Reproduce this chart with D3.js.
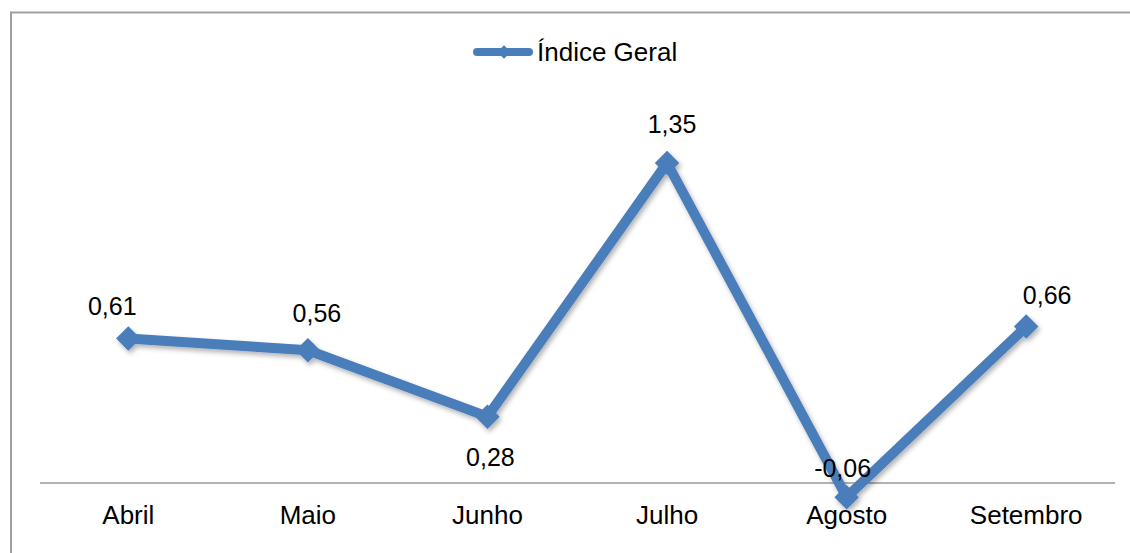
<!DOCTYPE html>
<html><head><meta charset="utf-8">
<script src="https://cdn.jsdelivr.net/npm/d3@7/dist/d3.min.js"></script>
<style>html,body{margin:0;padding:0;background:#fff;overflow:hidden}</style>
</head><body>
<svg id="c" width="1130" height="553"></svg>
<script>
const categories = ["Abril","Maio","Junho","Julho","Agosto","Setembro"];
const values = [0.61, 0.56, 0.28, 1.35, -0.06, 0.66];
const labels = ["0,61","0,56","0,28","1,35","-0,06","0,66"];
const seriesName = "Índice Geral";
// label placement offsets (dx, dy of baseline from point)
const labelDx = [-16, 9, 3, 5, -4, 21];
const labelDy = [-23, -28, 49, -30, -20, -23];

const svg = d3.select("#c");
const color = "#4a7ebb";
const font = "Arial, 'Liberation Sans', sans-serif";

const defs = svg.append("defs");
const f = defs.append("filter").attr("id","sh").attr("x","-20%").attr("y","-20%").attr("width","140%").attr("height","140%");
f.append("feDropShadow").attr("dx",2).attr("dy",3).attr("stdDeviation",2.5).attr("flood-color","#000").attr("flood-opacity",0.3);

svg.append("rect").attr("x",11).attr("y",12.5).attr("width",1140).attr("height",560)
  .attr("fill","none").attr("stroke","#a0a0a0").attr("stroke-width",2);

const x = d3.scaleBand().domain(categories).range([38.5, 1116]);
const y = d3.scaleLinear().domain([0, 1.35]).range([483, 163]);

// zero axis line
svg.append("line").attr("x1",40).attr("x2",1115).attr("y1",y(0)).attr("y2",y(0))
  .attr("stroke","#999").attr("stroke-width",1.5);

// category labels
const xAxis = d3.axisBottom(x).tickSize(0).tickPadding(0);
const ax = svg.append("g").attr("transform",`translate(0,${y(0)})`).call(xAxis);
ax.select(".domain").remove();
ax.selectAll("text").attr("font-family",font).attr("font-size",26).attr("fill","#000")
  .attr("dy",null).attr("y",40.5);

const cx = c => x(c) + x.bandwidth()/2;
const data = categories.map((c,i)=>({c, v:values[i], l:labels[i], i}));

const g = svg.append("g").attr("filter","url(#sh)");
g.append("path").datum(data)
  .attr("d", d3.line().x(d=>cx(d.c)).y(d=>y(d.v)))
  .attr("fill","none").attr("stroke",color).attr("stroke-width",10).attr("stroke-linejoin","round");

const diamond = d3.symbol().type(d3.symbolSquare).size(300);
g.selectAll(".m").data(data).join("path").attr("class","m")
  .attr("d", diamond)
  .attr("transform", d=>`translate(${cx(d.c)},${y(d.v)}) rotate(45)`)
  .attr("fill",color);

svg.selectAll(".lbl").data(data).join("text").attr("class","lbl")
  .attr("x", d=>cx(d.c)+labelDx[d.i]).attr("y", d=>y(d.v)+labelDy[d.i])
  .attr("text-anchor","middle").attr("font-family",font).attr("font-size",25).attr("fill","#000")
  .text(d=>d.l);

// legend
const lg = svg.append("g");
lg.append("line").attr("x1",477).attr("x2",529).attr("y1",52).attr("y2",52)
  .attr("stroke",color).attr("stroke-width",8).attr("stroke-linecap","round");
lg.append("path").attr("d", d3.symbol().type(d3.symbolSquare).size(90))
  .attr("transform","translate(504,52) rotate(45)").attr("fill",color);
lg.append("text").attr("x",537).attr("y",61).attr("font-family",font).attr("font-size",26)
  .attr("fill","#000").text(seriesName);
</script>
</body></html>
